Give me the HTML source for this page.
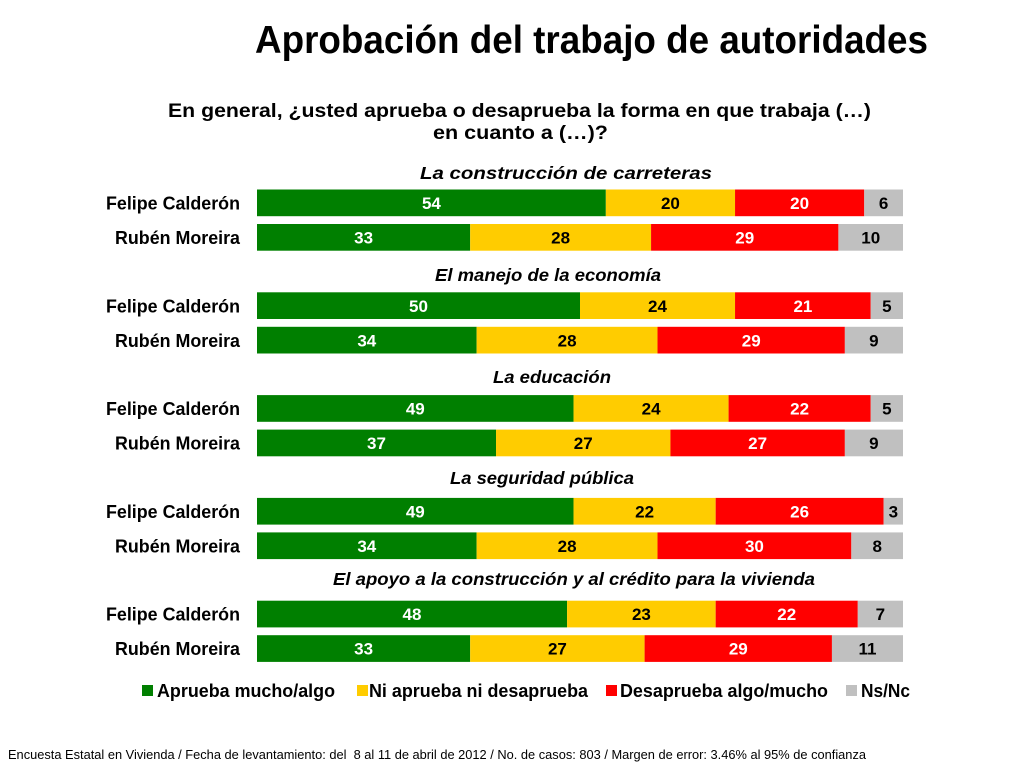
<!DOCTYPE html>
<html>
<head>
<meta charset="utf-8">
<style>
html,body{margin:0;padding:0;background:#fff;}
svg{display:block;}
text{font-family:"Liberation Sans",Arial,sans-serif;}
.t{font-weight:bold;}
.lab{font-weight:bold;font-size:18px;fill:#000;}
.sec{font-weight:bold;font-style:italic;font-size:17.5px;fill:#000;}
.nw{font-weight:bold;font-size:17px;fill:#fff;}
.nb{font-weight:bold;font-size:17px;fill:#000;}
.lg{font-weight:bold;font-size:18px;fill:#000;}
</style>
</head>
<body>
<svg width="1024" height="768" viewBox="0 0 1024 768" xmlns="http://www.w3.org/2000/svg">
<rect width="1024" height="768" fill="#fff"/>

<text class="t" x="255" y="53" font-size="39" textLength="673" lengthAdjust="spacingAndGlyphs">Aprobación del trabajo de autoridades</text>
<text class="t" x="168" y="117" font-size="19" textLength="703" lengthAdjust="spacingAndGlyphs">En general, ¿usted aprueba o desaprueba la forma en que trabaja (…)</text>
<text class="t" x="433" y="139" font-size="19" textLength="175" lengthAdjust="spacingAndGlyphs">en cuanto a (…)?</text>

<!-- Section titles -->
<text class="sec" x="420" y="179" textLength="292" lengthAdjust="spacingAndGlyphs">La construcción de carreteras</text>
<text class="sec" x="435" y="281" textLength="226" lengthAdjust="spacingAndGlyphs">El manejo de la economía</text>
<text class="sec" x="493" y="383" textLength="118" lengthAdjust="spacingAndGlyphs">La educación</text>
<text class="sec" x="450" y="484" textLength="184" lengthAdjust="spacingAndGlyphs">La seguridad pública</text>
<text class="sec" x="333" y="585" textLength="482" lengthAdjust="spacingAndGlyphs">El apoyo a la construcción y al crédito para la vivienda</text>

<!-- Labels -->
<g class="lab" text-anchor="end">
<text x="240" y="209.5" textLength="134" lengthAdjust="spacingAndGlyphs">Felipe Calderón</text>
<text x="240" y="244" textLength="125" lengthAdjust="spacingAndGlyphs">Rubén Moreira</text>
<text x="240" y="312.3" textLength="134" lengthAdjust="spacingAndGlyphs">Felipe Calderón</text>
<text x="240" y="346.8" textLength="125" lengthAdjust="spacingAndGlyphs">Rubén Moreira</text>
<text x="240" y="415.1" textLength="134" lengthAdjust="spacingAndGlyphs">Felipe Calderón</text>
<text x="240" y="449.6" textLength="125" lengthAdjust="spacingAndGlyphs">Rubén Moreira</text>
<text x="240" y="517.9" textLength="134" lengthAdjust="spacingAndGlyphs">Felipe Calderón</text>
<text x="240" y="552.4" textLength="125" lengthAdjust="spacingAndGlyphs">Rubén Moreira</text>
<text x="240" y="620.7" textLength="134" lengthAdjust="spacingAndGlyphs">Felipe Calderón</text>
<text x="240" y="655.2" textLength="125" lengthAdjust="spacingAndGlyphs">Rubén Moreira</text>
</g>

<!-- S1 F -->
<rect x="257" y="189.5" width="348.84" height="26.7" fill="#007F00"/>
<rect x="605.84" y="189.5" width="129.2" height="26.7" fill="#FFCC00"/>
<rect x="735.04" y="189.5" width="129.2" height="26.7" fill="#FF0000"/>
<rect x="864.24" y="189.5" width="38.76" height="26.7" fill="#C0C0C0"/>
<!-- S1 R -->
<rect x="257" y="224" width="213.18" height="26.7" fill="#007F00"/>
<rect x="470.18" y="224" width="180.88" height="26.7" fill="#FFCC00"/>
<rect x="651.06" y="224" width="187.34" height="26.7" fill="#FF0000"/>
<rect x="838.4" y="224" width="64.6" height="26.7" fill="#C0C0C0"/>
<!-- S2 F -->
<rect x="257" y="292.3" width="323" height="26.7" fill="#007F00"/>
<rect x="580" y="292.3" width="155.04" height="26.7" fill="#FFCC00"/>
<rect x="735.04" y="292.3" width="135.66" height="26.7" fill="#FF0000"/>
<rect x="870.7" y="292.3" width="32.3" height="26.7" fill="#C0C0C0"/>
<!-- S2 R -->
<rect x="257" y="326.8" width="219.64" height="26.7" fill="#007F00"/>
<rect x="476.64" y="326.8" width="180.88" height="26.7" fill="#FFCC00"/>
<rect x="657.52" y="326.8" width="187.34" height="26.7" fill="#FF0000"/>
<rect x="844.86" y="326.8" width="58.14" height="26.7" fill="#C0C0C0"/>
<!-- S3 F -->
<rect x="257" y="395.1" width="316.54" height="26.7" fill="#007F00"/>
<rect x="573.54" y="395.1" width="155.04" height="26.7" fill="#FFCC00"/>
<rect x="728.58" y="395.1" width="142.12" height="26.7" fill="#FF0000"/>
<rect x="870.7" y="395.1" width="32.3" height="26.7" fill="#C0C0C0"/>
<!-- S3 R -->
<rect x="257" y="429.6" width="239.02" height="26.7" fill="#007F00"/>
<rect x="496.02" y="429.6" width="174.42" height="26.7" fill="#FFCC00"/>
<rect x="670.44" y="429.6" width="174.42" height="26.7" fill="#FF0000"/>
<rect x="844.86" y="429.6" width="58.14" height="26.7" fill="#C0C0C0"/>
<!-- S4 F -->
<rect x="257" y="497.9" width="316.54" height="26.7" fill="#007F00"/>
<rect x="573.54" y="497.9" width="142.12" height="26.7" fill="#FFCC00"/>
<rect x="715.66" y="497.9" width="167.96" height="26.7" fill="#FF0000"/>
<rect x="883.62" y="497.9" width="19.38" height="26.7" fill="#C0C0C0"/>
<!-- S4 R -->
<rect x="257" y="532.4" width="219.64" height="26.7" fill="#007F00"/>
<rect x="476.64" y="532.4" width="180.88" height="26.7" fill="#FFCC00"/>
<rect x="657.52" y="532.4" width="193.8" height="26.7" fill="#FF0000"/>
<rect x="851.32" y="532.4" width="51.68" height="26.7" fill="#C0C0C0"/>
<!-- S5 F -->
<rect x="257" y="600.7" width="310.08" height="26.7" fill="#007F00"/>
<rect x="567.08" y="600.7" width="148.58" height="26.7" fill="#FFCC00"/>
<rect x="715.66" y="600.7" width="142.12" height="26.7" fill="#FF0000"/>
<rect x="857.78" y="600.7" width="45.22" height="26.7" fill="#C0C0C0"/>
<!-- S5 R -->
<rect x="257" y="635.2" width="213.18" height="26.7" fill="#007F00"/>
<rect x="470.18" y="635.2" width="174.42" height="26.7" fill="#FFCC00"/>
<rect x="644.6" y="635.2" width="187.34" height="26.7" fill="#FF0000"/>
<rect x="831.94" y="635.2" width="71.06" height="26.7" fill="#C0C0C0"/>

<!-- Numbers -->
<g text-anchor="middle">
<text class="nw" x="431.4" y="209">54</text><text class="nb" x="670.4" y="209">20</text><text class="nw" x="799.6" y="209">20</text><text class="nb" x="883.6" y="209">6</text>
<text class="nw" x="363.6" y="243.5">33</text><text class="nb" x="560.6" y="243.5">28</text><text class="nw" x="744.7" y="243.5">29</text><text class="nb" x="870.7" y="243.5">10</text>

<text class="nw" x="418.5" y="311.8">50</text><text class="nb" x="657.5" y="311.8">24</text><text class="nw" x="802.9" y="311.8">21</text><text class="nb" x="886.8" y="311.8">5</text>
<text class="nw" x="366.8" y="346.3">34</text><text class="nb" x="567.1" y="346.3">28</text><text class="nw" x="751.2" y="346.3">29</text><text class="nb" x="873.9" y="346.3">9</text>

<text class="nw" x="415.3" y="414.6">49</text><text class="nb" x="651.1" y="414.6">24</text><text class="nw" x="799.6" y="414.6">22</text><text class="nb" x="886.8" y="414.6">5</text>
<text class="nw" x="376.5" y="449.1">37</text><text class="nb" x="583.2" y="449.1">27</text><text class="nw" x="757.6" y="449.1">27</text><text class="nb" x="873.9" y="449.1">9</text>

<text class="nw" x="415.3" y="517.4">49</text><text class="nb" x="644.6" y="517.4">22</text><text class="nw" x="799.6" y="517.4">26</text><text class="nb" x="893.3" y="517.4">3</text>
<text class="nw" x="366.8" y="551.9">34</text><text class="nb" x="567.1" y="551.9">28</text><text class="nw" x="754.4" y="551.9">30</text><text class="nb" x="877.2" y="551.9">8</text>

<text class="nw" x="412" y="620.2">48</text><text class="nb" x="641.4" y="620.2">23</text><text class="nw" x="786.7" y="620.2">22</text><text class="nb" x="880.4" y="620.2">7</text>
<text class="nw" x="363.6" y="654.7">33</text><text class="nb" x="557.4" y="654.7">27</text><text class="nw" x="738.3" y="654.7">29</text><text class="nb" x="867.5" y="654.7">11</text>
</g>

<!-- Legend -->
<rect x="142" y="685" width="11" height="11" fill="#007F00"/>
<text class="lg" x="157" y="697" textLength="178" lengthAdjust="spacingAndGlyphs">Aprueba mucho/algo</text>
<rect x="357" y="685" width="11" height="11" fill="#FFCC00"/>
<text class="lg" x="369" y="697" textLength="219" lengthAdjust="spacingAndGlyphs">Ni aprueba ni desaprueba</text>
<rect x="606" y="685" width="11" height="11" fill="#FF0000"/>
<text class="lg" x="620" y="697" textLength="208" lengthAdjust="spacingAndGlyphs">Desaprueba algo/mucho</text>
<rect x="846" y="685" width="11" height="11" fill="#C0C0C0"/>
<text class="lg" x="861" y="697" textLength="49" lengthAdjust="spacingAndGlyphs">Ns/Nc</text>

<!-- Footer -->
<text x="8" y="759" font-size="12.5" fill="#000" textLength="858" lengthAdjust="spacingAndGlyphs" xml:space="preserve">Encuesta Estatal en Vivienda / Fecha de levantamiento: del  8 al 11 de abril de 2012 / No. de casos: 803 / Margen de error: 3.46% al 95% de confianza</text>
</svg>
</body>
</html>
